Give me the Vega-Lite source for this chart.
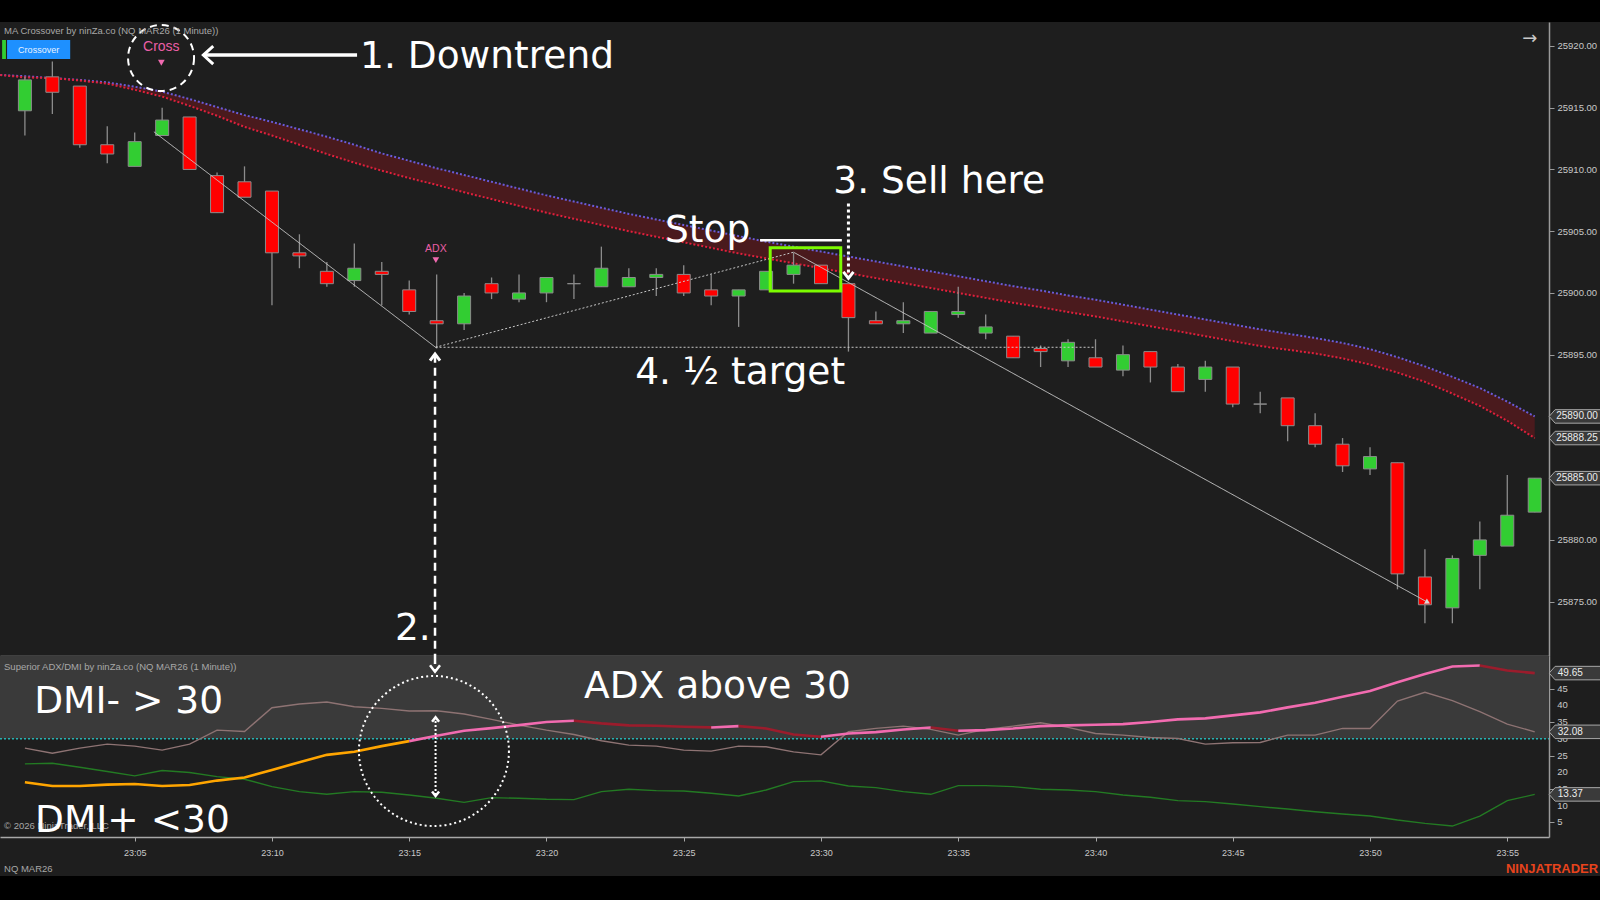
{
"$schema":"https://vega.github.io/schema/vega-lite/v6.json",
"background":"#1e1e1e",
"padding":0,
"spacing":0,
"bounds":"flush",
"config":{"view":{"stroke":null},"scale":{"continuousPadding":0},"axis":{"grid":false,"domainColor":"#9a9a9a","tickColor":"#9a9a9a","labelColor":"#c8c8c8","labelFont":"Liberation Sans","labelFontSize":9,"labelOverlap":false}},
"datasets":{
"candles":[
{"t":1,"o":25914.75,"h":25917.5,"l":25912.75,"c":25917.25},
{"t":2,"o":25917.5,"h":25918.75,"l":25914.5,"c":25916.25},
{"t":3,"o":25916.75,"h":25916.75,"l":25911.75,"c":25912},
{"t":4,"o":25912,"h":25913.5,"l":25910.5,"c":25911.25},
{"t":5,"o":25910.25,"h":25913,"l":25910.25,"c":25912.25},
{"t":6,"o":25912.75,"h":25915,"l":25912.75,"c":25914},
{"t":7,"o":25914.25,"h":25914.25,"l":25910,"c":25910},
{"t":8,"o":25909.5,"h":25909.75,"l":25906.5,"c":25906.5},
{"t":9,"o":25909,"h":25910.25,"l":25907.75,"c":25907.75},
{"t":10,"o":25908.25,"h":25908.25,"l":25899,"c":25903.25},
{"t":11,"o":25903.25,"h":25904.75,"l":25902,"c":25903},
{"t":12,"o":25901.75,"h":25902.5,"l":25900.5,"c":25900.75},
{"t":13,"o":25901,"h":25904,"l":25900.5,"c":25902},
{"t":14,"o":25901.75,"h":25902.5,"l":25899,"c":25901.5},
{"t":15,"o":25900.25,"h":25901,"l":25898.25,"c":25898.5},
{"t":16,"o":25897.75,"h":25901.5,"l":25895.5,"c":25897.5},
{"t":17,"o":25897.5,"h":25900,"l":25897,"c":25899.75},
{"t":18,"o":25900.75,"h":25901.25,"l":25899.5,"c":25900},
{"t":19,"o":25899.5,"h":25901.5,"l":25899.25,"c":25900},
{"t":20,"o":25900,"h":25901.25,"l":25899.25,"c":25901.25},
{"t":21,"o":25900.75,"h":25901.5,"l":25899.5,"c":25900.75},
{"t":22,"o":25900.5,"h":25903.75,"l":25900.5,"c":25902},
{"t":23,"o":25900.5,"h":25902,"l":25900.5,"c":25901.25},
{"t":24,"o":25901.25,"h":25902,"l":25899.75,"c":25901.5},
{"t":25,"o":25901.5,"h":25902.25,"l":25899.75,"c":25900},
{"t":26,"o":25900.25,"h":25901.5,"l":25899,"c":25899.75},
{"t":27,"o":25899.75,"h":25900.25,"l":25897.25,"c":25900.25},
{"t":28,"o":25900.25,"h":25901.75,"l":25900.25,"c":25901.75},
{"t":29,"o":25901.5,"h":25903.25,"l":25900.75,"c":25902.25},
{"t":30,"o":25902.25,"h":25902.25,"l":25900.75,"c":25900.75},
{"t":31,"o":25900.75,"h":25900.75,"l":25895.25,"c":25898},
{"t":32,"o":25897.75,"h":25898.5,"l":25897.5,"c":25897.5},
{"t":33,"o":25897.5,"h":25899.25,"l":25896.75,"c":25897.75},
{"t":34,"o":25896.75,"h":25898.5,"l":25896.75,"c":25898.5},
{"t":35,"o":25898.25,"h":25900.5,"l":25898,"c":25898.5},
{"t":36,"o":25896.75,"h":25898.25,"l":25896.25,"c":25897.25},
{"t":37,"o":25896.5,"h":25896.5,"l":25894.75,"c":25894.75},
{"t":38,"o":25895.5,"h":25895.75,"l":25894,"c":25895.25},
{"t":39,"o":25894.5,"h":25896.25,"l":25894,"c":25896},
{"t":40,"o":25894.75,"h":25896.25,"l":25894,"c":25894},
{"t":41,"o":25893.75,"h":25895.75,"l":25893.25,"c":25895},
{"t":42,"o":25895.25,"h":25895.25,"l":25892.75,"c":25894},
{"t":43,"o":25894,"h":25894.25,"l":25892,"c":25892},
{"t":44,"o":25893,"h":25894.5,"l":25892,"c":25894},
{"t":45,"o":25894,"h":25894,"l":25890.75,"c":25891},
{"t":46,"o":25891,"h":25892,"l":25890.25,"c":25891},
{"t":47,"o":25891.5,"h":25891.5,"l":25888,"c":25889.25},
{"t":48,"o":25889.25,"h":25890.25,"l":25887.5,"c":25887.75},
{"t":49,"o":25887.75,"h":25888.25,"l":25885.5,"c":25886},
{"t":50,"o":25885.75,"h":25887.5,"l":25885.25,"c":25886.75},
{"t":51,"o":25886.25,"h":25886.25,"l":25876,"c":25877.25},
{"t":52,"o":25877,"h":25879.25,"l":25873.25,"c":25874.75},
{"t":53,"o":25874.5,"h":25878.75,"l":25873.25,"c":25878.5},
{"t":54,"o":25878.75,"h":25881.5,"l":25876,"c":25880},
{"t":55,"o":25879.5,"h":25885.25,"l":25879.5,"c":25882},
{"t":56,"o":25882.25,"h":25885,"l":25882.25,"c":25885}
],
"ma":[
{"t":0.1,"fast":25917.65,"slow":25917.65},
{"t":1,"fast":25917.55,"slow":25917.45},
{"t":2,"fast":25917.4,"slow":25917.4},
{"t":3,"fast":25917.25,"slow":25917.2},
{"t":4,"fast":25917.05,"slow":25916.95},
{"t":5,"fast":25916.7,"slow":25916.45},
{"t":6,"fast":25916.3,"slow":25915.9},
{"t":7,"fast":25915.7,"slow":25915.15},
{"t":8,"fast":25915.05,"slow":25914.35},
{"t":9,"fast":25914.4,"slow":25913.45},
{"t":10,"fast":25913.85,"slow":25912.75},
{"t":11,"fast":25913.25,"slow":25912.0},
{"t":12,"fast":25912.65,"slow":25911.25},
{"t":13,"fast":25912.0,"slow":25910.55},
{"t":14,"fast":25911.3,"slow":25909.9},
{"t":15,"fast":25910.7,"slow":25909.3},
{"t":16,"fast":25910.1,"slow":25908.75},
{"t":17,"fast":25909.55,"slow":25908.15},
{"t":18,"fast":25909.0,"slow":25907.6},
{"t":19,"fast":25908.45,"slow":25907.05},
{"t":20,"fast":25907.9,"slow":25906.5},
{"t":21,"fast":25907.4,"slow":25906.0},
{"t":22,"fast":25906.9,"slow":25905.5},
{"t":23,"fast":25906.4,"slow":25905.0},
{"t":24,"fast":25905.95,"slow":25904.55},
{"t":25,"fast":25905.5,"slow":25904.1},
{"t":26,"fast":25905.05,"slow":25903.65},
{"t":27,"fast":25904.6,"slow":25903.2},
{"t":28,"fast":25904.15,"slow":25902.8},
{"t":29,"fast":25903.75,"slow":25902.4},
{"t":30,"fast":25903.35,"slow":25902.0},
{"t":31,"fast":25902.95,"slow":25901.6},
{"t":32,"fast":25902.55,"slow":25901.2},
{"t":33,"fast":25902.15,"slow":25900.8},
{"t":34,"fast":25901.75,"slow":25900.4},
{"t":35,"fast":25901.35,"slow":25900.0},
{"t":36,"fast":25900.95,"slow":25899.6},
{"t":37,"fast":25900.55,"slow":25899.2},
{"t":38,"fast":25900.2,"slow":25898.85},
{"t":39,"fast":25899.8,"slow":25898.45},
{"t":40,"fast":25899.45,"slow":25898.1},
{"t":41,"fast":25899.05,"slow":25897.7},
{"t":42,"fast":25898.65,"slow":25897.3},
{"t":43,"fast":25898.25,"slow":25896.9},
{"t":44,"fast":25897.85,"slow":25896.5},
{"t":45,"fast":25897.45,"slow":25896.1},
{"t":46,"fast":25897.05,"slow":25895.7},
{"t":47,"fast":25896.7,"slow":25895.4},
{"t":48,"fast":25896.35,"slow":25895.1},
{"t":49,"fast":25895.95,"slow":25894.7},
{"t":50,"fast":25895.45,"slow":25894.2},
{"t":51,"fast":25894.8,"slow":25893.55},
{"t":52,"fast":25894.05,"slow":25892.8},
{"t":53,"fast":25893.2,"slow":25891.85},
{"t":54,"fast":25892.3,"slow":25890.85},
{"t":55,"fast":25891.2,"slow":25889.65},
{"t":56,"fast":25890.0,"slow":25888.25}
],
"adx":[
{"t":1,"v":17.0,"state":"below","seg":0},{"t":2,"v":15.9,"state":"below","seg":0},{"t":3,"v":15.9,"state":"below","seg":0},{"t":4,"v":16.3,"state":"below","seg":0},{"t":5,"v":16.5,"state":"below","seg":0},{"t":6,"v":15.9,"state":"below","seg":0},{"t":7,"v":16.2,"state":"below","seg":0},{"t":8,"v":17.5,"state":"below","seg":0},{"t":9,"v":18.4,"state":"below","seg":0},{"t":10,"v":20.7,"state":"below","seg":0},{"t":11,"v":23.0,"state":"below","seg":0},{"t":12,"v":25.2,"state":"below","seg":0},{"t":13,"v":26.1,"state":"below","seg":0},{"t":14,"v":27.8,"state":"below","seg":0},{"t":15,"v":29.3,"state":"below","seg":0},
{"t":15,"v":29.3,"state":"rising","seg":1},{"t":16,"v":30.9,"state":"rising","seg":1},{"t":17,"v":32.4,"state":"rising","seg":1},{"t":18,"v":33.2,"state":"rising","seg":1},{"t":19,"v":34.1,"state":"rising","seg":1},{"t":20,"v":35.0,"state":"rising","seg":1},{"t":21,"v":35.4,"state":"rising","seg":1},
{"t":21,"v":35.4,"state":"falling","seg":2},{"t":22,"v":34.6,"state":"falling","seg":2},{"t":23,"v":34.0,"state":"falling","seg":2},{"t":24,"v":33.9,"state":"falling","seg":2},{"t":25,"v":33.6,"state":"falling","seg":2},{"t":26,"v":33.4,"state":"falling","seg":2},
{"t":26,"v":33.4,"state":"rising","seg":3},{"t":27,"v":33.8,"state":"rising","seg":3},
{"t":27,"v":33.8,"state":"falling","seg":4},{"t":28,"v":33.1,"state":"falling","seg":4},{"t":29,"v":31.3,"state":"falling","seg":4},{"t":30,"v":30.6,"state":"falling","seg":4},
{"t":30,"v":30.6,"state":"rising","seg":5},{"t":31,"v":31.6,"state":"rising","seg":5},{"t":32,"v":32.0,"state":"rising","seg":5},{"t":33,"v":32.8,"state":"rising","seg":5},{"t":34,"v":33.4,"state":"rising","seg":5},
{"t":34,"v":33.4,"state":"falling","seg":6},{"t":35,"v":32.4,"state":"falling","seg":6},
{"t":35,"v":32.4,"state":"rising","seg":7},{"t":36,"v":32.6,"state":"rising","seg":7},{"t":37,"v":33.1,"state":"rising","seg":7},{"t":38,"v":33.8,"state":"rising","seg":7},{"t":39,"v":34.0,"state":"rising","seg":7},{"t":40,"v":34.2,"state":"rising","seg":7},{"t":41,"v":34.4,"state":"rising","seg":7},{"t":42,"v":35.0,"state":"rising","seg":7},{"t":43,"v":35.8,"state":"rising","seg":7},{"t":44,"v":36.1,"state":"rising","seg":7},{"t":45,"v":37.0,"state":"rising","seg":7},{"t":46,"v":37.9,"state":"rising","seg":7},{"t":47,"v":39.4,"state":"rising","seg":7},{"t":48,"v":40.8,"state":"rising","seg":7},{"t":49,"v":42.6,"state":"rising","seg":7},{"t":50,"v":44.3,"state":"rising","seg":7},{"t":51,"v":46.9,"state":"rising","seg":7},{"t":52,"v":49.4,"state":"rising","seg":7},{"t":53,"v":51.6,"state":"rising","seg":7},{"t":54,"v":51.9,"state":"rising","seg":7},
{"t":54,"v":51.9,"state":"falling","seg":8},{"t":55,"v":50.4,"state":"falling","seg":8},{"t":56,"v":49.65,"state":"falling","seg":8}
],
"dmi":[
{"t":1,"minus":27.2,"plus":22.5},{"t":2,"minus":25.7,"plus":22.7},{"t":3,"minus":27.2,"plus":21.5},{"t":4,"minus":28.4,"plus":20.2},{"t":5,"minus":27.8,"plus":18.9},{"t":6,"minus":26.6,"plus":20.5},{"t":7,"minus":28.4,"plus":19.9},{"t":8,"minus":32.6,"plus":18.7},{"t":9,"minus":32.2,"plus":17.9},{"t":10,"minus":39.3,"plus":15.7},{"t":11,"minus":40.4,"plus":14.2},{"t":12,"minus":41.0,"plus":13.4},{"t":13,"minus":39.6,"plus":14.2},{"t":14,"minus":39.1,"plus":14.0},{"t":15,"minus":38.3,"plus":13.2},{"t":16,"minus":38.4,"plus":12.2},{"t":17,"minus":37.4,"plus":11.0},{"t":18,"minus":35.8,"plus":12.4},{"t":19,"minus":34.1,"plus":12.2},{"t":20,"minus":32.6,"plus":11.9},{"t":21,"minus":31.3,"plus":11.8},{"t":22,"minus":29.4,"plus":14.2},{"t":23,"minus":28.1,"plus":14.9},{"t":24,"minus":27.8,"plus":14.5},{"t":25,"minus":26.6,"plus":14.4},{"t":26,"minus":26.3,"plus":13.7},{"t":27,"minus":27.8,"plus":12.9},{"t":28,"minus":27.6,"plus":14.7},{"t":29,"minus":26.1,"plus":17.2},{"t":30,"minus":25.2,"plus":17.4},{"t":31,"minus":32.1,"plus":15.9},{"t":32,"minus":33.1,"plus":15.4},{"t":33,"minus":33.8,"plus":14.2},{"t":34,"minus":32.8,"plus":13.4},{"t":35,"minus":31.1,"plus":16.0},{"t":36,"minus":32.8,"plus":16.0},{"t":37,"minus":33.8,"plus":15.7},{"t":38,"minus":34.8,"plus":14.9},{"t":39,"minus":33.4,"plus":14.7},{"t":40,"minus":31.6,"plus":14.2},{"t":41,"minus":31.1,"plus":13.2},{"t":42,"minus":30.4,"plus":12.5},{"t":43,"minus":30.1,"plus":11.5},{"t":44,"minus":28.4,"plus":11.2},{"t":45,"minus":28.8,"plus":10.5},{"t":46,"minus":28.9,"plus":9.7},{"t":47,"minus":31.1,"plus":9.0},{"t":48,"minus":31.1,"plus":8.2},{"t":49,"minus":33.1,"plus":7.5},{"t":50,"minus":33.1,"plus":6.9},{"t":51,"minus":41.3,"plus":5.7},{"t":52,"minus":43.9,"plus":4.7},{"t":53,"minus":41.4,"plus":3.9},{"t":54,"minus":38.1,"plus":6.9},{"t":55,"minus":34.4,"plus":11.5},{"t":56,"minus":32.08,"plus":13.37}
]
},
"vconcat":[
{"data":{"values":[]},"mark":"point","width":1600,"height":22,"view":{"fill":"#000000","stroke":null}},
{
"width":1549,"height":634,
"view":{"fill":"#1e1e1e","stroke":null},
"layer":[
{"data":{"name":"ma"},"mark":{"type":"area","color":"#4a1a1d","opacity":1,"clip":true},
 "encoding":{"x":{"field":"t","type":"quantitative","scale":{"domain":[0.093,56.52],"nice":false,"zero":false,"padding":0},"axis":{"orient":"bottom","labels":false,"ticks":false,"title":null,"domainColor":"#a8a8a8","domainWidth":1.5}},
 "y":{"field":"fast","type":"quantitative","scale":{"domain":[25870.6,25921.94],"nice":false,"zero":false},"axis":{"orient":"right","values":[25875,25880,25885,25890,25895,25900,25905,25910,25915,25920],"format":".2f","title":null,"tickSize":5,"labelPadding":3,"domainWidth":1.5,"domainColor":"#9a9a9a","labelFontSize":9.5,"labelOverlap":false}},"y2":{"field":"slow"}}},
{"data":{"name":"ma"},"mark":{"type":"line","color":"#6b5bd8","strokeWidth":2,"strokeDash":[2,2],"clip":true},
 "encoding":{"x":{"field":"t","type":"quantitative","scale":{"domain":[0.093,56.52],"nice":false,"zero":false,"padding":0}},
 "y":{"field":"fast","type":"quantitative","scale":{"domain":[25870.6,25921.94],"nice":false,"zero":false}}}},
{"data":{"name":"ma"},"mark":{"type":"line","color":"#e0203c","strokeWidth":2,"strokeDash":[2,2],"clip":true},
 "encoding":{"x":{"field":"t","type":"quantitative","scale":{"domain":[0.093,56.52],"nice":false,"zero":false,"padding":0}},
 "y":{"field":"slow","type":"quantitative","scale":{"domain":[25870.6,25921.94],"nice":false,"zero":false}}}},
{"data":{"name":"candles"},"mark":{"type":"rule","color":"#8c8c8c","strokeWidth":1.3},
 "encoding":{"x":{"field":"t","type":"quantitative","scale":{"domain":[0.093,56.52],"nice":false,"zero":false,"padding":0}},
 "y":{"field":"l","type":"quantitative","scale":{"domain":[25870.6,25921.94],"nice":false,"zero":false}},
 "y2":{"field":"h"}}},
{"data":{"name":"candles"},"mark":{"type":"bar","size":13,"stroke":"#8c8c8c","strokeWidth":1},
 "encoding":{"x":{"field":"t","type":"quantitative","scale":{"domain":[0.093,56.52],"nice":false,"zero":false,"padding":0}},
 "y":{"field":"o","type":"quantitative","scale":{"domain":[25870.6,25921.94],"nice":false,"zero":false}},"y2":{"field":"c"},
 "fill":{"condition":{"test":"datum.c > datum.o","value":"#32cd32"},"value":"#ff0000"}}},
{"data":{"values":[
 {"t":5.7,"p":25913.05,"t2":15.96,"p2":25895.6,"kind":"solid"},
 {"t":15.96,"p":25895.6,"t2":29.0,"p2":25903.3,"kind":"dotted"},
 {"t":15.96,"p":25895.6,"t2":40.0,"p2":25895.6,"kind":"dotted"},
 {"t":29.0,"p":25903.3,"t2":52.1,"p2":25874.95,"kind":"solid"}]},
 "mark":{"type":"rule","color":"#c8c8c8","strokeWidth":1},
 "encoding":{"x":{"field":"t","type":"quantitative","scale":{"domain":[0.093,56.52],"nice":false,"zero":false,"padding":0}},
 "y":{"field":"p","type":"quantitative","scale":{"domain":[25870.6,25921.94],"nice":false,"zero":false}},
 "x2":{"field":"t2"},"y2":{"field":"p2"},
 "strokeDash":{"field":"kind","type":"nominal","scale":{"domain":["solid","dotted"],"range":[[1,0],[2,2]]},"legend":null}}},
{"data":{"values":[{"t":52.1,"p":25874.95}]},"mark":{"type":"point","shape":"triangle-right","angle":29,"filled":true,"color":"#d8d8d8","size":35,"opacity":1},
 "encoding":{"x":{"field":"t","type":"quantitative","scale":{"domain":[0.093,56.52],"nice":false,"zero":false,"padding":0}},
 "y":{"field":"p","type":"quantitative","scale":{"domain":[25870.6,25921.94],"nice":false,"zero":false}}}},
{"data":{"values":[{"t":28.15,"t2":30.72,"p":25900.15,"p2":25903.65}]},"mark":{"type":"rect","fill":"transparent","stroke":"#7cfc00","strokeWidth":3},
 "encoding":{"x":{"field":"t","type":"quantitative","scale":{"domain":[0.093,56.52],"nice":false,"zero":false,"padding":0}},
 "y":{"field":"p","type":"quantitative","scale":{"domain":[25870.6,25921.94],"nice":false,"zero":false}},"x2":{"field":"t2"},"y2":{"field":"p2"}}},
{"data":{"values":[{"t":27.78,"t2":30.76,"p":25904.26}]},"mark":{"type":"rule","color":"#ffffff","strokeWidth":2.5},
 "encoding":{"x":{"field":"t","type":"quantitative","scale":{"domain":[0.093,56.52],"nice":false,"zero":false,"padding":0}},
 "y":{"field":"p","type":"quantitative","scale":{"domain":[25870.6,25921.94],"nice":false,"zero":false}},"x2":{"field":"t2"}}},
{"data":{"values":[{"t":7.5,"t2":13.1,"p":25919.26,"p2":25919.26}]},"mark":{"type":"rule","color":"#ffffff","strokeWidth":3.5},
 "encoding":{"x":{"field":"t","type":"quantitative","scale":{"domain":[0.093,56.52],"nice":false,"zero":false,"padding":0}},
 "y":{"field":"p","type":"quantitative","scale":{"domain":[25870.6,25921.94],"nice":false,"zero":false}},"x2":{"field":"t2"},"y2":{"field":"p2"}}},
{"data":{"values":[{"t":31.0,"t2":31.0,"p":25907.25,"p2":25901.4}]},"mark":{"type":"rule","color":"#ffffff","strokeWidth":3,"strokeDash":[3,3]},
 "encoding":{"x":{"field":"t","type":"quantitative","scale":{"domain":[0.093,56.52],"nice":false,"zero":false,"padding":0}},
 "y":{"field":"p","type":"quantitative","scale":{"domain":[25870.6,25921.94],"nice":false,"zero":false}},"x2":{"field":"t2"},"y2":{"field":"p2"}}},
{"data":{"values":[{"t":15.94,"t2":15.94,"p":25895.0,"p2":25870.6}]},"mark":{"type":"rule","color":"#ffffff","strokeWidth":2.5,"strokeDash":[8,5]},
 "encoding":{"x":{"field":"t","type":"quantitative","scale":{"domain":[0.093,56.52],"nice":false,"zero":false,"padding":0}},
 "y":{"field":"p","type":"quantitative","scale":{"domain":[25870.6,25921.94],"nice":false,"zero":false}},"x2":{"field":"t2"},"y2":{"field":"p2"}}},
{"data":{"values":[{"t":7.5,"p":25919.26,"dir":"left"},{"t":31.0,"p":25901.18,"dir":"down"},{"t":15.94,"p":25895.05,"dir":"up"}]},
 "mark":{"type":"point","filled":false,"color":"#ffffff","strokeWidth":3,"opacity":1},
 "encoding":{"x":{"field":"t","type":"quantitative","scale":{"domain":[0.093,56.52],"nice":false,"zero":false,"padding":0}},
 "y":{"field":"p","type":"quantitative","scale":{"domain":[25870.6,25921.94],"nice":false,"zero":false}},
 "shape":{"field":"dir","type":"nominal","scale":{"domain":["left","down","up"],"range":["M 1.1 -1 L 0 0 L 1.1 1","M -1 -1.3 L 0 0 L 1 -1.3","M -1 1.3 L 0 0 L 1 1.3"]},"legend":null},
 "size":{"condition":{"test":"datum.dir === 'left'","value":324},"value":100}}},
{"data":{"values":[{"t":5.96,"p":25919.02}]},"mark":{"type":"point","shape":"circle","filled":false,"color":"#ffffff","strokeWidth":2,"strokeDash":[7,5],"size":4356,"opacity":1},
 "encoding":{"x":{"field":"t","type":"quantitative","scale":{"domain":[0.093,56.52],"nice":false,"zero":false,"padding":0}},
 "y":{"field":"p","type":"quantitative","scale":{"domain":[25870.6,25921.94],"nice":false,"zero":false}}}},
{"data":{"values":[{"t":5.97,"p":25919.94,"label":"Cross"},{"t":15.97,"p":25903.55,"label":"ADX"}]},"mark":{"type":"text","color":"#ea5ea6","font":"Liberation Sans","align":"center","baseline":"middle"},
 "encoding":{"x":{"field":"t","type":"quantitative","scale":{"domain":[0.093,56.52],"nice":false,"zero":false,"padding":0}},
 "y":{"field":"p","type":"quantitative","scale":{"domain":[25870.6,25921.94],"nice":false,"zero":false}},
 "text":{"field":"label"},"size":{"condition":{"test":"datum.label === 'Cross'","value":14},"value":10.5}}},
{"data":{"values":[{"t":5.97,"p":25918.64},{"t":15.97,"p":25902.66}]},"mark":{"type":"point","shape":"triangle-down","filled":true,"color":"#f06ab0","size":45,"opacity":1},
 "encoding":{"x":{"field":"t","type":"quantitative","scale":{"domain":[0.093,56.52],"nice":false,"zero":false,"padding":0}},
 "y":{"field":"p","type":"quantitative","scale":{"domain":[25870.6,25921.94],"nice":false,"zero":false}}}},
{"data":{"values":[
 {"t":13.21,"p":25918.19,"label":"1. Downtrend"},
 {"t":24.32,"p":25904.15,"label":"Stop"},
 {"t":30.45,"p":25908.06,"label":"3. Sell here"},
 {"t":23.23,"p":25892.62,"label":"4. ½ target"},
 {"t":14.48,"p":25871.9,"label":"2."}]},
 "mark":{"type":"text","color":"#ffffff","font":"DejaVu Sans","fontSize":37.5,"align":"left","baseline":"alphabetic"},
 "encoding":{"x":{"field":"t","type":"quantitative","scale":{"domain":[0.093,56.52],"nice":false,"zero":false,"padding":0}},
 "y":{"field":"p","type":"quantitative","scale":{"domain":[25870.6,25921.94],"nice":false,"zero":false}},"text":{"field":"label"}}},
{"data":{"values":[{"t":0.35,"t2":2.65,"p":25918.94,"p2":25920.48,"kind":"button"},{"t":0.17,"t2":0.31,"p":25918.94,"p2":25920.48,"kind":"bar"}]},
 "mark":{"type":"rect"},
 "encoding":{"x":{"field":"t","type":"quantitative","scale":{"domain":[0.093,56.52],"nice":false,"zero":false,"padding":0}},
 "y":{"field":"p","type":"quantitative","scale":{"domain":[25870.6,25921.94],"nice":false,"zero":false}},"x2":{"field":"t2"},"y2":{"field":"p2"},
 "fill":{"field":"kind","type":"nominal","scale":{"domain":["button","bar"],"range":["#1e90ff","#32cd32"]},"legend":null}}},
{"data":{"values":[{"t":1.5,"p":25919.71,"label":"Crossover"}]},"mark":{"type":"text","color":"#e8f2ff","font":"Liberation Sans","fontSize":9,"align":"center","baseline":"middle"},
 "encoding":{"x":{"field":"t","type":"quantitative","scale":{"domain":[0.093,56.52],"nice":false,"zero":false,"padding":0}},
 "y":{"field":"p","type":"quantitative","scale":{"domain":[25870.6,25921.94],"nice":false,"zero":false}},"text":{"field":"label"}}},
{"data":{"values":[{"t":0.24,"p":25921.25,"label":"MA Crossover by ninZa.co (NQ MAR26 (1 Minute))"}]},"mark":{"type":"text","color":"#a8a8a8","font":"Liberation Sans","fontSize":9.5,"align":"left","baseline":"middle"},
 "encoding":{"x":{"field":"t","type":"quantitative","scale":{"domain":[0.093,56.52],"nice":false,"zero":false,"padding":0}},
 "y":{"field":"p","type":"quantitative","scale":{"domain":[25870.6,25921.94],"nice":false,"zero":false}},"text":{"field":"label"}}},
{"data":{"values":[{"t":55.82,"p":25920.57,"label":"→"}]},"mark":{"type":"text","color":"#c8c8c8","font":"DejaVu Sans","fontSize":18,"align":"center","baseline":"middle"},
 "encoding":{"x":{"field":"t","type":"quantitative","scale":{"domain":[0.093,56.52],"nice":false,"zero":false,"padding":0}},
 "y":{"field":"p","type":"quantitative","scale":{"domain":[25870.6,25921.94],"nice":false,"zero":false}},"text":{"field":"label"}}},
{"data":{"values":[{"p":25890.0,"label":"25890.00"},{"p":25888.25,"label":"25888.25"},{"p":25885.0,"label":"25885.00"}]},
 "mark":{"type":"point","shape":"M -1 0 L -0.78 -0.25 L 1 -0.25 L 1 0.25 L -0.78 0.25 Z","filled":true,"fill":"#3a3a3a","stroke":"#a8a8a8","strokeWidth":1,"size":2916,"opacity":1},
 "encoding":{"x":{"datum":57.51,"type":"quantitative","scale":{"domain":[0.093,56.52],"nice":false,"zero":false,"padding":0}},
 "y":{"field":"p","type":"quantitative","scale":{"domain":[25870.6,25921.94],"nice":false,"zero":false}}}},
{"data":{"values":[{"p":25890.0,"label":"25890.00"},{"p":25888.25,"label":"25888.25"},{"p":25885.0,"label":"25885.00"}]},
 "mark":{"type":"text","color":"#ececec","font":"Liberation Sans","fontSize":10,"align":"left","baseline":"middle"},
 "encoding":{"x":{"datum":56.78,"type":"quantitative","scale":{"domain":[0.093,56.52],"nice":false,"zero":false,"padding":0}},
 "y":{"field":"p","type":"quantitative","scale":{"domain":[25870.6,25921.94],"nice":false,"zero":false}},"text":{"field":"label"}}}
]
},
{
"width":1549,"height":181,
"view":{"fill":"#1e1e1e","stroke":null},
"layer":[
{"data":{"values":[{"t":0.093,"t2":56.52,"v":30,"v2":54.76}]},"mark":{"type":"rect","fill":"#3a3a3a","clip":true},
 "encoding":{"x":{"field":"t","type":"quantitative","scale":{"domain":[0.093,56.52],"nice":false,"zero":false,"padding":0},"axis":{"orient":"bottom","values":[5,10,15,20,25,30,35,40,45,50,55],"labelExpr":"'23:' + (datum.value < 10 ? '0' + datum.value : datum.value)","title":null,"tickSize":4,"labelPadding":7,"domainColor":"#a8a8a8","domainWidth":1.5,"tickColor":"#a8a8a8","labelOverlap":false}},
 "y":{"field":"v","type":"quantitative","scale":{"domain":[0.63,54.76],"nice":false,"zero":false},"axis":{"orient":"right","values":[5,10,15,20,25,30,35,40,45],"labels":false,"title":null,"tickSize":5,"domainWidth":1.5,"domainColor":"#9a9a9a"}},"x2":{"field":"t2"},"y2":{"field":"v2"}}},
{"data":{"values":[{"t":0.093,"t2":56.52,"v":30}]},"mark":{"type":"rule","color":"#26b3b3","strokeWidth":1.5,"strokeDash":[2,2],"clip":true},
 "encoding":{"x":{"field":"t","type":"quantitative","scale":{"domain":[0.093,56.52],"nice":false,"zero":false,"padding":0}},
 "y":{"field":"v","type":"quantitative","scale":{"domain":[0.63,54.76],"nice":false,"zero":false}},"x2":{"field":"t2"}}},
{"data":{"name":"dmi"},"mark":{"type":"line","color":"#8e7373","strokeWidth":1.4},
 "encoding":{"x":{"field":"t","type":"quantitative","scale":{"domain":[0.093,56.52],"nice":false,"zero":false,"padding":0}},
 "y":{"field":"minus","type":"quantitative","scale":{"domain":[0.63,54.76],"nice":false,"zero":false}}}},
{"data":{"name":"dmi"},"mark":{"type":"line","color":"#237a23","strokeWidth":1.4},
 "encoding":{"x":{"field":"t","type":"quantitative","scale":{"domain":[0.093,56.52],"nice":false,"zero":false,"padding":0}},
 "y":{"field":"plus","type":"quantitative","scale":{"domain":[0.63,54.76],"nice":false,"zero":false}}}},
{"data":{"name":"adx"},"mark":{"type":"line","strokeWidth":2.6},
 "encoding":{"x":{"field":"t","type":"quantitative","scale":{"domain":[0.093,56.52],"nice":false,"zero":false,"padding":0}},
 "y":{"field":"v","type":"quantitative","scale":{"domain":[0.63,54.76],"nice":false,"zero":false}},
 "color":{"field":"state","type":"nominal","scale":{"domain":["below","rising","falling"],"range":["#ffa500","#f26bb0","#9b1c2c"]},"legend":null},
 "detail":{"field":"seg","type":"nominal"}}},
{"data":{"values":[{"t":15.9,"v":26.35}]},"mark":{"type":"point","shape":"circle","filled":false,"color":"#ffffff","strokeWidth":2,"strokeDash":[2,3],"size":22500,"opacity":1},
 "encoding":{"x":{"field":"t","type":"quantitative","scale":{"domain":[0.093,56.52],"nice":false,"zero":false,"padding":0}},
 "y":{"field":"v","type":"quantitative","scale":{"domain":[0.63,54.76],"nice":false,"zero":false}}}},
{"data":{"values":[{"t":15.96,"t2":15.96,"v":13.2,"v2":36.1}]},"mark":{"type":"rule","color":"#ffffff","strokeWidth":2,"strokeDash":[2,2]},
 "encoding":{"x":{"field":"t","type":"quantitative","scale":{"domain":[0.093,56.52],"nice":false,"zero":false,"padding":0}},
 "y":{"field":"v","type":"quantitative","scale":{"domain":[0.63,54.76],"nice":false,"zero":false}},"x2":{"field":"t2"},"y2":{"field":"v2"}}},
{"data":{"values":[{"t":15.94,"t2":15.94,"v":54.76,"v2":50.3}]},"mark":{"type":"rule","color":"#ffffff","strokeWidth":2.5,"strokeDash":[8,5]},
 "encoding":{"x":{"field":"t","type":"quantitative","scale":{"domain":[0.093,56.52],"nice":false,"zero":false,"padding":0}},
 "y":{"field":"v","type":"quantitative","scale":{"domain":[0.63,54.76],"nice":false,"zero":false}},"x2":{"field":"t2"},"y2":{"field":"v2"}}},
{"data":{"values":[{"t":15.94,"v":50.07,"dir":"down","big":"yes"},{"t":15.96,"v":36.43,"dir":"up","big":"no"},{"t":15.96,"v":12.88,"dir":"down","big":"no"}]},
 "mark":{"type":"point","filled":false,"color":"#ffffff","strokeWidth":2.5,"opacity":1},
 "encoding":{"x":{"field":"t","type":"quantitative","scale":{"domain":[0.093,56.52],"nice":false,"zero":false,"padding":0}},
 "y":{"field":"v","type":"quantitative","scale":{"domain":[0.63,54.76],"nice":false,"zero":false}},
 "shape":{"field":"dir","type":"nominal","scale":{"domain":["down","up"],"range":["M -1 -1.3 L 0 0 L 1 -1.3","M -1 1.3 L 0 0 L 1 1.3"]},"legend":null},
 "size":{"condition":{"test":"datum.big === 'yes'","value":100},"value":49}}},
{"data":{"values":[{"t":0.24,"v":51.6,"label":"Superior ADX/DMI by ninZa.co (NQ MAR26 (1 Minute))"},{"t":0.24,"v":3.9,"label":"© 2026 NinjaTrader, LLC"},{"t":0.24,"v":-9.0,"label":"NQ MAR26"}]},
 "mark":{"type":"text","color":"#a8a8a8","font":"Liberation Sans","fontSize":9.5,"align":"left","baseline":"middle"},
 "encoding":{"x":{"field":"t","type":"quantitative","scale":{"domain":[0.093,56.52],"nice":false,"zero":false,"padding":0}},
 "y":{"field":"v","type":"quantitative","scale":{"domain":[0.63,54.76],"nice":false,"zero":false}},"text":{"field":"label"}}},
{"data":{"values":[{"t":58.31,"v":-9.0,"label":"NINJATRADER"}]},
 "mark":{"type":"text","color":"#e8431c","font":"Liberation Sans","fontSize":13,"fontWeight":"bold","align":"right","baseline":"middle"},
 "encoding":{"x":{"field":"t","type":"quantitative","scale":{"domain":[0.093,56.52],"nice":false,"zero":false,"padding":0}},
 "y":{"field":"v","type":"quantitative","scale":{"domain":[0.63,54.76],"nice":false,"zero":false}},"text":{"field":"label"}}},
{"data":{"values":[{"t":1.34,"v":37.7,"label":"DMI-   > 30"},{"t":1.37,"v":2.04,"label":"DMI+  <30"},{"t":21.37,"v":42.2,"label":"ADX above 30"}]},
 "mark":{"type":"text","color":"#ffffff","font":"DejaVu Sans","fontSize":37.5,"align":"left","baseline":"alphabetic"},
 "encoding":{"x":{"field":"t","type":"quantitative","scale":{"domain":[0.093,56.52],"nice":false,"zero":false,"padding":0}},
 "y":{"field":"v","type":"quantitative","scale":{"domain":[0.63,54.76],"nice":false,"zero":false}},"text":{"field":"label"}}},
{"data":{"values":[{"v":5},{"v":10},{"v":15},{"v":20},{"v":25},{"v":30},{"v":35},{"v":40},{"v":45}]},
 "mark":{"type":"text","color":"#c8c8c8","font":"Liberation Sans","fontSize":9.5,"align":"left","baseline":"middle"},
 "encoding":{"x":{"datum":56.82,"type":"quantitative","scale":{"domain":[0.093,56.52],"nice":false,"zero":false,"padding":0}},
 "y":{"field":"v","type":"quantitative","scale":{"domain":[0.63,54.76],"nice":false,"zero":false}},"text":{"field":"v","type":"quantitative"}}},
{"data":{"values":[{"v":49.65,"label":"49.65"},{"v":32.08,"label":"32.08"},{"v":13.37,"label":"13.37"}]},
 "mark":{"type":"point","shape":"M -1 0 L -0.78 -0.25 L 1 -0.25 L 1 0.25 L -0.78 0.25 Z","filled":true,"fill":"#3a3a3a","stroke":"#a8a8a8","strokeWidth":1,"size":2916,"opacity":1},
 "encoding":{"x":{"datum":57.51,"type":"quantitative","scale":{"domain":[0.093,56.52],"nice":false,"zero":false,"padding":0}},
 "y":{"field":"v","type":"quantitative","scale":{"domain":[0.63,54.76],"nice":false,"zero":false}}}},
{"data":{"values":[{"v":49.65,"label":"49.65"},{"v":32.08,"label":"32.08"},{"v":13.37,"label":"13.37"}]},
 "mark":{"type":"text","color":"#ececec","font":"Liberation Sans","fontSize":10,"align":"left","baseline":"middle"},
 "encoding":{"x":{"datum":56.84,"type":"quantitative","scale":{"domain":[0.093,56.52],"nice":false,"zero":false,"padding":0}},
 "y":{"field":"v","type":"quantitative","scale":{"domain":[0.63,54.76],"nice":false,"zero":false}},"text":{"field":"label"}}}
]
},
{"data":{"values":[]},"mark":"point","width":1600,"height":39},
{"data":{"values":[]},"mark":"point","width":1600,"height":60,"view":{"fill":"#000000","stroke":null}}
]
}
